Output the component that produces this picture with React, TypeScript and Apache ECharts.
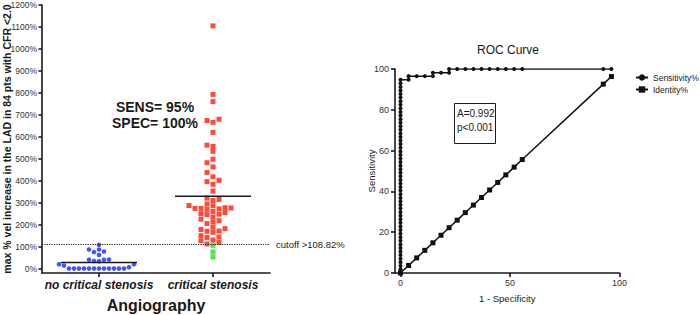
import React, { useEffect, useRef } from "react";
import * as echarts from "echarts";

// ---------- data ----------
const categories = ["no critical stenosis", "critical stenosis"];
const noCriticalValues = [0, 0, 0, 0, 0, 0, 0, 0, 0, 0, 0, 0, 6, 14, 20, 20, 33, 35, 40, 40, 41, 62, 75, 78, 87, 87, 108];
const criticalValues = [
  1105, 793, 760, 680, 674, 666, 620, 562, 556, 534, 498, 482, 463, 438, 418, 402, 396, 384, 353,
  321, 315, 310, 294, 287, 286, 277, 276, 274, 274, 272, 270, 260, 255, 250, 248, 246, 235, 225,
  218, 212, 205, 188, 182, 178, 171, 170, 165, 150, 144, 142, 130, 127, 119, 112, 106, 76, 53,
];
const cutoff = 108.82;
const yTicks = [0, 100, 200, 300, 400, 500, 600, 700, 800, 900, 1000, 1100, 1200];
const statsLines = ["SENS= 95%", "SPEC= 100%"];

// ROC: points on the vertical at 1-specificity = 0
const rocVerticalSens = [
  0, 1.8, 3.5, 5.3, 7.0, 8.8, 10.5, 12.3, 14.0, 15.8, 17.5, 19.3, 21.1, 22.8, 24.6, 26.3, 28.1, 29.8,
  31.6, 33.3, 35.1, 36.8, 38.6, 40.4, 42.1, 43.9, 45.6, 47.4, 49.1, 50.9, 52.6, 54.4, 56.1, 57.9,
  59.6, 61.4, 63.2, 64.9, 66.7, 68.4, 70.2, 71.9, 73.7, 75.4, 77.2, 78.9, 80.7, 82.5, 84.2, 86.0,
  87.7, 89.5, 91.2, 93.0, 94.7,
];
const rocStepFpr = [3.7, 3.7, 7.4, 11.1, 14.8, 14.8, 18.5, 22.2, 22.2, 25.9, 29.6, 33.3, 37.0, 40.7, 44.4, 48.1, 51.9, 55.6, 92.6, 96.3];
const rocStepSens = [94.7, 96.5, 96.5, 96.5, 96.5, 98.2, 98.2, 98.2, 100, 100, 100, 100, 100, 100, 100, 100, 100, 100, 100, 100];
const identityValues = [0, 3.7, 7.4, 11.1, 14.8, 18.5, 22.2, 25.9, 29.6, 33.3, 37.0, 40.7, 44.4, 48.1, 51.9, 55.6, 92.6, 96.3];
const rocXTicks = [0, 50, 100];
const rocYTicks = [0, 20, 40, 60, 80, 100];
const aucLines = ["A=0.992", "p<0.001"];
const seriesNames = ["Sensitivity%", "Identity%"];

// ---------- layout ----------
const FONT = "'Liberation Sans', Arial, Helvetica, sans-serif";
const INK = "#1a1a1a";
const G1 = { left: 42, top: 5, width: 228, height: 268 };
const Y1_MIN = -20;
const Y1_MAX = 1200;
const X1_MIN = 0.5;
const X1_MAX = 2.5;
const G2 = { left: 395, top: 69, width: 224.5, height: 204 };

function swarm(values: number[], center: number, colPx: number, gapPx: number) {
  const pxPerY = G1.height / (Y1_MAX - Y1_MIN);
  const pxPerX = G1.width / (X1_MAX - X1_MIN);
  const order = values.map((v, i) => ({ v, i })).sort((a, b) => a.v - b.v);
  const cols = new Map<number, number[]>();
  const out: number[][] = new Array(values.length);
  for (const { v, i } of order) {
    const y = v * pxPerY;
    for (let s = 0; ; s++) {
      const k = s === 0 ? 0 : s % 2 === 1 ? -Math.ceil(s / 2) : Math.ceil(s / 2);
      const list = cols.get(k) || [];
      if (list.every((p) => Math.abs(p - y) >= gapPx)) {
        list.push(y);
        cols.set(k, list);
        out[i] = [center + (k * colPx) / pxPerX, v];
        break;
      }
    }
  }
  return out;
}

const mean = (a: number[]) => a.reduce((s, v) => s + v, 0) / a.length;

export default function App() {
  const ref = useRef<HTMLDivElement>(null);
  useEffect(() => {
    if (!ref.current) return;
    const chart = echarts.init(ref.current, undefined, { renderer: "svg" });

    const bluePts = swarm(noCriticalValues, 1, 5.0, 4.6);
    const critPts = swarm(criticalValues, 2, 6, 4.8);
    const redPts = critPts.filter((p) => p[1] >= cutoff);
    const greenPts = critPts.filter((p) => p[1] < cutoff);
    const m1 = mean(noCriticalValues);
    const m2 = mean(criticalValues);
    const half = 1 / 3;

    const sensData = rocVerticalSens.map((y) => [0, y]).concat(rocStepFpr.map((x, i) => [x, rocStepSens[i]]));
    const idData = identityValues.map((v) => [v, v]);

    const axisLineStyle = { color: INK, width: 1.6 };

    chart.setOption({
      animation: false,
      textStyle: { fontFamily: FONT },
      grid: [
        { ...G1, outerBoundsMode: "none", containLabel: false },
        { ...G2, outerBoundsMode: "none", containLabel: false },
      ],
      legend: {
        data: seriesNames,
        orient: "vertical",
        left: 630,
        top: 68,
        itemWidth: 12,
        itemHeight: 8,
        itemGap: 3,
        textStyle: { fontSize: 8.5, color: INK, fontFamily: FONT },
      },
      xAxis: [
        {
          type: "value",
          gridIndex: 0,
          min: X1_MIN,
          max: X1_MAX,
          axisLine: { show: true, onZero: false, lineStyle: axisLineStyle },
          axisTick: { show: true, customValues: [1, 2], length: 4, lineStyle: axisLineStyle },
          axisLabel: {
            customValues: [1, 2],
            formatter: (v: number) => categories[Math.round(v) - 1],
            fontSize: 12,
            fontWeight: "bold",
            fontStyle: "italic",
            color: INK,
            margin: 6,
            fontFamily: FONT,
          },
          splitLine: { show: false },
          name: "Angiography",
          nameLocation: "middle",
          nameGap: 24,
          nameMoveOverlap: false,
          nameTextStyle: { fontSize: 16, fontWeight: "bold", color: INK, fontFamily: FONT },
        },
        {
          type: "value",
          gridIndex: 1,
          min: -2.5,
          max: 100,
          axisLine: { show: true, onZero: false, lineStyle: axisLineStyle },
          axisTick: { show: true, customValues: rocXTicks, length: 4, lineStyle: axisLineStyle },
          axisLabel: { customValues: rocXTicks, fontSize: 9, color: "#333", margin: 5, fontFamily: FONT },
          splitLine: { show: false },
          name: "1 - Specificity",
          nameLocation: "middle",
          nameGap: 20,
          nameMoveOverlap: false,
          nameTextStyle: { fontSize: 9.5, color: INK, fontFamily: FONT },
        },
      ],
      yAxis: [
        {
          type: "value",
          gridIndex: 0,
          min: Y1_MIN,
          max: Y1_MAX,
          axisLine: { show: true, onZero: false, lineStyle: axisLineStyle },
          axisTick: { show: true, customValues: yTicks, length: 3.5, lineStyle: axisLineStyle },
          axisLabel: {
            customValues: yTicks,
            formatter: (v: number) => v + "%",
            fontSize: 8.5,
            color: "#333",
            margin: 5,
            fontFamily: FONT,
          },
          splitLine: { show: false },
          name: "max % vel increase in the LAD in 84 pts with CFR <2.0",
          nameLocation: "middle",
          nameGap: 30,
          nameRotate: 90,
          nameMoveOverlap: false,
          nameTextStyle: { fontSize: 10.5, fontWeight: "bold", color: INK, fontFamily: FONT },
        },
        {
          type: "value",
          gridIndex: 1,
          min: 0,
          max: 100,
          interval: 20,
          axisLine: { show: true, onZero: false, lineStyle: axisLineStyle },
          axisTick: { show: true, customValues: rocYTicks, length: 4, lineStyle: axisLineStyle },
          axisLabel: { customValues: rocYTicks, fontSize: 9, color: "#333", margin: 6, fontFamily: FONT },
          splitLine: { show: false },
          name: "Sensitivity",
          nameLocation: "middle",
          nameGap: 19,
          nameRotate: 90,
          nameMoveOverlap: false,
          nameTextStyle: { fontSize: 9.5, color: INK, fontFamily: FONT },
        },
      ],
      series: [
        {
          type: "scatter",
          xAxisIndex: 0,
          yAxisIndex: 0,
          symbol: "circle",
          symbolSize: 4.6,
          itemStyle: { color: "#1428ff" },
          data: bluePts,
          silent: true,
          markLine: {
            silent: true,
            symbol: "none",
            lineStyle: { type: [1.2, 1.2], color: INK, width: 1 },
            label: {
              show: true,
              position: "end",
              formatter: "cutoff >" + cutoff + "%",
              fontSize: 9.5,
              color: INK,
              fontFamily: FONT,
              distance: 6,
            },
            data: [{ yAxis: cutoff }],
          },
        },
        {
          type: "scatter",
          xAxisIndex: 0,
          yAxisIndex: 0,
          symbol: "rect",
          symbolSize: 5,
          itemStyle: { color: "#ff1d0a" },
          data: redPts,
          silent: true,
        },
        {
          type: "scatter",
          xAxisIndex: 0,
          yAxisIndex: 0,
          symbol: "rect",
          symbolSize: 5,
          itemStyle: { color: "#1ee01e" },
          data: greenPts,
          silent: true,
        },
        {
          type: "line",
          xAxisIndex: 0,
          yAxisIndex: 0,
          symbol: "none",
          lineStyle: { color: INK, width: 1.5 },
          data: [[1 - half, m1], [1 + half, m1]],
          silent: true,
        },
        {
          type: "line",
          xAxisIndex: 0,
          yAxisIndex: 0,
          symbol: "none",
          lineStyle: { color: INK, width: 1.5 },
          data: [[2 - half, m2], [2 + half, m2]],
          silent: true,
        },
        {
          name: seriesNames[0],
          type: "line",
          xAxisIndex: 1,
          yAxisIndex: 1,
          symbol: "circle",
          symbolSize: 4,
          itemStyle: { color: "#111" },
          lineStyle: { color: "#111", width: 1.5 },
          data: sensData,
          silent: true,
        },
        {
          name: seriesNames[1],
          type: "line",
          xAxisIndex: 1,
          yAxisIndex: 1,
          symbol: "rect",
          symbolSize: 5,
          itemStyle: { color: "#111" },
          lineStyle: { color: "#111", width: 1.5 },
          data: idData,
          silent: true,
        },
      ],
      graphic: [
        {
          type: "text",
          x: 155,
          y: 107,
          style: { text: statsLines[0], fontSize: 14, fontWeight: "bold", fill: INK, fontFamily: FONT, textAlign: "center", textVerticalAlign: "middle" },
        },
        {
          type: "text",
          x: 155,
          y: 123,
          style: { text: statsLines[1], fontSize: 14, fontWeight: "bold", fill: INK, fontFamily: FONT, textAlign: "center", textVerticalAlign: "middle" },
        },
        {
          type: "text",
          x: 508,
          y: 50,
          style: { text: "ROC Curve", fontSize: 12, fill: INK, fontFamily: FONT, textAlign: "center", textVerticalAlign: "middle" },
        },
        {
          type: "rect",
          shape: { x: 454.5, y: 103.5, width: 41, height: 40 },
          style: { fill: "none", stroke: INK, lineWidth: 1 },
        },
        {
          type: "text",
          x: 457,
          y: 113,
          style: { text: aucLines[0], fontSize: 10, fill: INK, fontFamily: FONT, textAlign: "left", textVerticalAlign: "middle" },
        },
        {
          type: "text",
          x: 457,
          y: 127,
          style: { text: aucLines[1], fontSize: 10, fill: INK, fontFamily: FONT, textAlign: "left", textVerticalAlign: "middle" },
        },
      ],
    });
    return () => chart.dispose();
  }, []);
  return (
    <div
      ref={ref}
      style={{ position: "fixed", left: 0, top: 0, width: 700, height: 315, background: "#fff" }}
    />
  );
}
